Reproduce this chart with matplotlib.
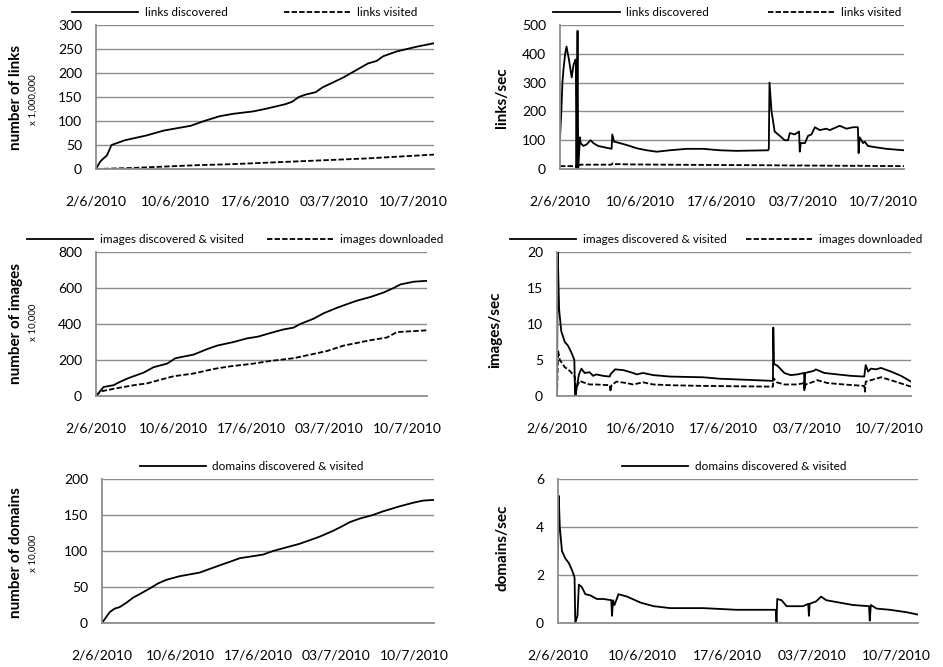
import matplotlib.pyplot as plt

plt.rcParams['font.family'] = ['Lato', 'DejaVu Sans']

# x axis is a category axis in the original, positions given as 0..100 of the plot width
tick_pos = [0, 23.5, 47, 70.5, 94]
tick_labels = ["2/6/2010", "10/6/2010", "17/6/2010", "03/7/2010", "10/7/2010"]

# --- links (cumulative, x 1,000,000)
links_disc_x = [0, 1.2, 2.2, 3.2, 4.6, 8.6, 15, 20, 24, 28, 32, 36.6, 40.6, 46.5, 50, 53, 56, 58,
                60, 62, 65, 67, 70, 73, 75.5, 78, 80.5, 83, 85, 89, 92, 95, 100]
links_disc_y = [0, 15, 22, 28, 50, 60, 70, 80, 85, 90, 100, 110, 115, 120, 125, 130, 135, 140,
                150, 155, 160, 170, 180, 190, 200, 210, 220, 225, 235, 245, 250, 255, 262]
links_vis_x = [0, 10, 20, 30, 40, 50, 60, 70, 80, 90, 100]
links_vis_y = [0, 2, 5, 8, 10, 13, 16, 19, 22, 26, 30]

# --- links/sec
lrate_x = [0.0, 0.4, 0.7, 1.0, 1.5, 1.9, 2.6, 3.4, 3.9, 4.5, 4.6, 4.8, 5.1, 5.3, 5.8, 6.0,
           6.8, 7.7, 8.9, 9.7, 11.1, 15.0, 15.2, 15.7, 17.4, 20.3, 22.3, 25.2, 28.1, 31.9,
           36.8, 41.6, 46.5, 51.3, 60.5, 60.7, 60.9, 61.5, 62.4, 63.9, 65.3, 66.3, 66.8,
           68.2, 69.5, 69.7, 70.0, 71.2, 72.1, 73.1, 74.1, 75.5, 77.4, 78.4, 81.3, 83.3,
           85.2, 86.6, 86.8, 87.1, 88.1, 88.6, 89.5, 92.0, 94.9, 100]
lrate_y = [105, 205, 298, 345, 400, 425, 380, 318, 360, 380, 370, 0, 480, 0, 110, 90,
           80, 85, 100, 90, 80, 70, 120, 95, 90, 80, 72, 65, 60, 65,
           70, 70, 65, 63, 65, 70, 300, 200, 130, 115, 100, 100, 125,
           120, 130, 60, 90, 90, 115, 120, 145, 135, 140, 135, 150, 140,
           145, 145, 55, 110, 90, 95, 80, 75, 70, 65]
lvis_x = [0, 4.6, 4.9, 5.2, 6, 15, 15.3, 16, 20, 30, 45, 60, 70, 70.5, 71, 86, 86.3, 87, 100]
lvis_y = [10, 10, 0, 12, 15, 15, 20, 17, 16, 15, 14, 13, 12, 14, 12, 11, 13, 11, 10]

# --- images (cumulative, x 10,000)
img_disc_x = [0, 2.3, 5.3, 7.4, 9.9, 14.4, 17.4, 21.5, 24, 29.5, 33.5, 36.6, 41.6, 45.6, 49,
              52.7, 56.7, 59.7, 61.7, 65.8, 68.8, 72.8, 75.8, 78.9, 82.9, 86.9, 89.9, 92, 96, 100]
img_disc_y = [0, 50, 60, 80, 100, 130, 160, 180, 210, 230, 260, 280, 300, 320, 330, 350, 370,
              380, 400, 430, 460, 490, 510, 530, 550, 575, 600, 620, 635, 640]
img_dl_x = [0, 1.3, 5.3, 11.4, 15.4, 19.4, 23.5, 29.5, 35.5, 40.6, 47.6, 52.7, 59.7, 64.8,
            69.8, 74.8, 78.9, 82.9, 87.9, 90.9, 100]
img_dl_y = [0, 25, 40, 60, 70, 90, 110, 125, 150, 165, 180, 195, 210, 230, 250, 280, 295,
            310, 325, 355, 365]

# --- images/sec
irate_x = [0, 0.2, 0.6, 1.2, 2.2, 3.1, 3.6, 4.1, 4.9, 5.1, 5.7, 6.2, 6.9, 7.8, 9.2, 10.2,
           11.1, 13.0, 14.9, 15.1, 16.4, 18.7, 21.5, 22.5, 24.3, 27.2, 31.9, 41.3, 46.0,
           61.0, 61.1, 61.3, 61.5, 62.3, 64.2, 66.0, 67.9, 69.8, 69.9, 70.1, 72.6, 73.1,
           75.5, 79.2, 83.0, 86.8, 87.2, 87.9, 88.7, 90.1, 91.5, 94.3, 97.2, 100]
irate_y = [0, 20, 12, 9, 7.5, 7, 6.5, 6, 5, 0, 1.5, 3, 3.8, 3.2, 3.3, 2.8, 3, 2.8, 2.7, 3,
           3.7, 3.6, 3.2, 3.0, 3.2, 2.9, 2.7, 2.6, 2.4, 2.1, 9.5, 4.5, 4.4, 4.2, 3.2, 2.9,
           3.0, 3.2, 1.0, 3.2, 3.5, 3.7, 3.2, 3.0, 2.8, 2.7, 4.3, 3.4, 3.8, 3.7, 3.9, 3.4,
           2.8, 2.0]
idl_x = [0, 0.3, 0.8, 2.2, 3.6, 4.5, 5.1, 5.3, 5.5, 6.4, 7.4, 9.2, 11.1, 14.9, 15.1, 15.4,
         16.8, 19.6, 21.5, 24.3, 27.2, 31.9, 41.3, 61.0, 61.1, 62.1, 64.2, 67.9, 69.8, 69.9,
         70.2, 72.6, 73.5, 76.4, 81.1, 86.8, 87.0, 87.2, 88.7, 91.5, 94.3, 98.1, 100]
idl_y = [0, 6.3, 5, 4, 3.5, 3, 2.6, 0, 1.2, 2.1, 1.9, 1.6, 1.6, 1.5, 0.6, 1.5, 2.0, 1.8, 1.6,
         1.9, 1.6, 1.5, 1.4, 1.3, 2.5, 1.9, 1.6, 1.6, 1.8, 0.8, 1.6, 2.0, 2.2, 1.8, 1.6, 1.4,
         0.6, 2.0, 2.2, 2.6, 2.2, 1.6, 1.3]

# --- domains (cumulative, x 10,000)
dom_x = [0, 2.3, 3.8, 5.3, 7.3, 9.3, 11.3, 14.4, 16.9, 19.4, 23.4, 29.4, 32.4, 35.4, 38.5,
         41.5, 48.5, 51.5, 55.5, 59.5, 62.6, 65.6, 69.6, 72.6, 74.6, 77.6, 81.6, 84.6, 89.6,
         93.7, 96.7, 100]
dom_y = [0, 15, 20, 22, 28, 35, 40, 48, 55, 60, 65, 70, 75, 80, 85, 90, 95, 100, 105, 110,
         115, 120, 128, 135, 140, 145, 150, 155, 162, 167, 170, 171]

# --- domains/sec
drate_x = [0, 0.2, 0.5, 1.1, 2.0, 3.0, 3.9, 4.6, 4.8, 5.4, 5.8, 6.6, 7.6, 9.0, 10.8, 12.7,
           14.8, 15.0, 15.3, 15.7, 16.8, 19.2, 22.9, 26.6, 31.2, 40.4, 49.6, 60.5, 60.7,
           60.9, 62.1, 63.5, 68.1, 69.5, 69.7, 69.9, 71.7, 73.1, 74.5, 78.2, 81.9, 86.4,
           86.6, 86.9, 88.5, 92.2, 96.8, 100]
drate_y = [2.7, 5.3, 4, 3, 2.7, 2.5, 2.2, 1.9, 0, 0.3, 1.6, 1.5, 1.2, 1.15, 1.0, 1.0, 0.95,
           0.3, 0.95, 0.75, 1.2, 1.1, 0.85, 0.7, 0.62, 0.62, 0.55, 0.55, 0, 1.0, 0.95, 0.7,
           0.7, 0.8, 0.3, 0.8, 0.9, 1.1, 0.95, 0.85, 0.75, 0.7, 0.1, 0.75, 0.6, 0.55, 0.45,
           0.35]

fig = plt.figure(figsize=(9.43, 6.67), dpi=100)
W, H = 943, 667


def make_ax(l, r, t, b):
    return fig.add_axes([l / W, 1 - b / H, (r - l) / W, (b - t) / H])


def style(ax, ymax, step):
    ax.set_xlim(0, 100)
    ax.set_ylim(0, ymax)
    ax.set_yticks(range(0, ymax + 1, step))
    ax.set_xticks(tick_pos)
    ax.set_xticklabels(tick_labels)
    ax.tick_params(axis='both', length=0, labelsize=10, colors='black')
    ax.tick_params(axis='x', pad=19)
    ax.tick_params(axis='y', pad=10)
    for s in ['top', 'right']:
        ax.spines[s].set_visible(False)
    for s in ['left', 'bottom']:
        ax.spines[s].set_color('#8c8c8c')
        ax.spines[s].set_linewidth(1.3)
    ax.yaxis.grid(True, color='#8c8c8c', linewidth=1.0)
    ax.set_axisbelow(True)


def legend(ax, x0, gap):
    # x0: where the first legend line starts (axes coords), gap: space between entries
    ax.legend(loc='lower left', bbox_to_anchor=(x0, 1.05), ncol=2, frameon=False,
              fontsize=8.5, handlelength=5.6, columnspacing=gap, handletextpad=0.55,
              borderaxespad=0, borderpad=0)


dash = (0, (3, 1.2))
lw = 1.3

ax1 = make_ax(96, 434, 25, 169)
ax1.plot(links_disc_x, links_disc_y, color='black', lw=lw, label='links discovered')
ax1.plot(links_vis_x, links_vis_y, color='black', lw=lw, ls=dash, label='links visited')
style(ax1, 300, 50)
legend(ax1, -0.071, 4.8)

ax2 = make_ax(560, 904, 25, 169)
ax2.plot(lrate_x, lrate_y, color='black', lw=lw, label='links discovered')
ax2.plot(lvis_x, lvis_y, color='black', lw=lw, ls=dash, label='links visited')
style(ax2, 500, 100)
legend(ax2, -0.019, 5.0)

ax3 = make_ax(96, 427, 252, 396)
ax3.plot(img_disc_x, img_disc_y, color='black', lw=lw, label='images discovered & visited')
ax3.plot(img_dl_x, img_dl_y, color='black', lw=lw, ls=dash, label='images downloaded')
style(ax3, 800, 200)
legend(ax3, -0.208, 2.0)

ax4 = make_ax(557, 911, 252, 396)
ax4.plot(irate_x, irate_y, color='black', lw=lw, label='images discovered & visited')
ax4.plot(idl_x, idl_y, color='black', lw=lw, ls=dash, label='images downloaded')
style(ax4, 20, 5)
legend(ax4, -0.133, 1.7)

ax5 = make_ax(102, 434, 479, 623)
ax5.plot(dom_x, dom_y, color='black', lw=lw, label='domains discovered & visited')
style(ax5, 200, 50)
legend(ax5, 0.114, 2.0)

ax6 = make_ax(558, 918, 479, 623)
ax6.plot(drate_x, drate_y, color='black', lw=lw, label='domains discovered & visited')
style(ax6, 6, 2)
legend(ax6, 0.178, 2.0)

# y labels
fig.text(16 / W, 1 - 97 / H, 'number of links', rotation=90, fontweight='bold',
         fontsize=11, ha='center', va='center')
fig.text(33 / W, 1 - 100 / H, 'x 1,000,000', rotation=90, fontsize=7, ha='center', va='center')
fig.text(16 / W, 1 - 323 / H, 'number of images', rotation=90, fontweight='bold',
         fontsize=11, ha='center', va='center')
fig.text(33 / W, 1 - 322 / H, 'x 10,000', rotation=90, fontsize=7, ha='center', va='center')
fig.text(16 / W, 1 - 553 / H, 'number of domains', rotation=90, fontweight='bold',
         fontsize=11, ha='center', va='center')
fig.text(33 / W, 1 - 553 / H, 'x 10,000', rotation=90, fontsize=7, ha='center', va='center')
fig.text(502 / W, 1 - 98 / H, 'links/sec', rotation=90, fontweight='bold',
         fontsize=11, ha='center', va='center')
fig.text(495 / W, 1 - 330 / H, 'images/sec', rotation=90, fontweight='bold',
         fontsize=11, ha='center', va='center')
fig.text(502 / W, 1 - 548 / H, 'domains/sec', rotation=90, fontweight='bold',
         fontsize=11, ha='center', va='center')

fig.savefig('out.png', dpi=100)
